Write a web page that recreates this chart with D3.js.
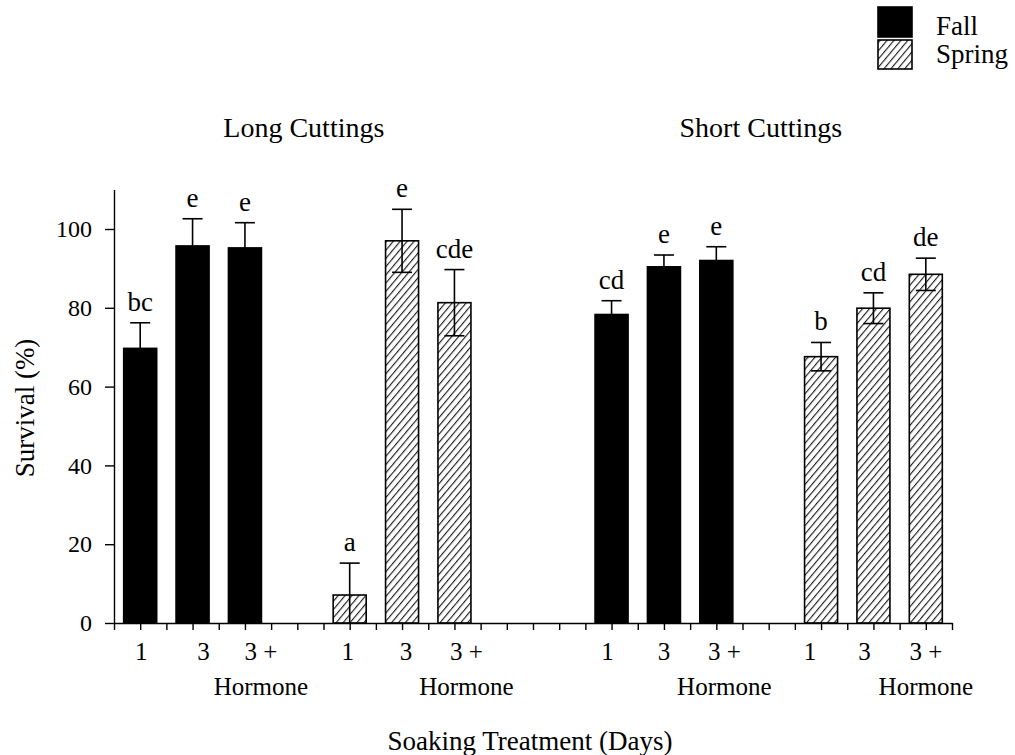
<!DOCTYPE html>
<html>
<head>
<meta charset="utf-8">
<script src="https://cdn.jsdelivr.net/npm/d3@7"></script>
<style>
  html, body { margin: 0; padding: 0; background: #fff; }
  svg { display: block; }
  text { font-family: "Liberation Serif", "Times New Roman", serif; fill: #000; }
</style>
</head>
<body>
<div id="chart"></div>
<script>
// ---------------- data ----------------
const cuttings   = ["Long Cuttings", "Short Cuttings"];
const seasons    = ["Fall", "Spring"];
const treatments = ["1", "3", "3 +"];
const treatmentNote = "Hormone";

const longFall      = [69.7, 95.7, 95.2];
const longFallErr   = [6.5, 6.9, 6.4];
const longFallLet   = ["bc", "e", "e"];

const longSpring    = [7.1, 97.0, 81.3];
const longSpringErr = [8.1, 8.0, 8.4];
const longSpringLet = ["a", "e", "cde"];

const shortFall     = [78.3, 90.4, 92.0];
const shortFallErr  = [3.5, 3.0, 3.5];
const shortFallLet  = ["cd", "e", "e"];

const shortSpring    = [67.6, 79.9, 88.5];
const shortSpringErr = [3.6, 3.9, 4.1];
const shortSpringLet = ["b", "cd", "de"];

const yTicks = [0, 20, 40, 60, 80, 100];
const yTitle = "Survival (%)";
const xTitle = "Soaking Treatment (Days)";

// ---------------- layout (not data) ----------------
const W = 1015, H = 755;
const plot = { left: 114, right: 952, top: 189.6, bottom: 623 };
// pixel nudges for hand-placed tick labels in the original figure
const labelNudge = [1, 11, 16, -2, 4, 12, -4, 0, 8, -11, -9, 0];

// build records
const series = [
  { c: 0, s: 0, v: longFall,    e: longFallErr,    l: longFallLet },
  { c: 0, s: 1, v: longSpring,  e: longSpringErr,  l: longSpringLet },
  { c: 1, s: 0, v: shortFall,   e: shortFallErr,   l: shortFallLet },
  { c: 1, s: 1, v: shortSpring, e: shortSpringErr, l: shortSpringLet }
];
const rows = [];
series.forEach((sr, si) => sr.v.forEach((v, t) => rows.push({
  cut: sr.c, season: sr.s, t, value: v, err: sr.e[t], letter: sr.l[t],
  slot: sr.c * 9 + sr.s * 4 + t, idx: si * 3 + t
})));

const svg = d3.select("#chart").append("svg").attr("width", W).attr("height", H);
svg.append("rect").attr("width", W).attr("height", H).attr("fill", "#fff");

const defs = svg.append("defs");
const pat = defs.append("pattern").attr("id", "hatch")
  .attr("patternUnits", "userSpaceOnUse").attr("width", 5.3).attr("height", 10)
  .attr("patternTransform", "rotate(40)");
pat.append("rect").attr("width", 5.3).attr("height", 10).attr("fill", "#fff");
pat.append("line").attr("x1", 0.6).attr("x2", 0.6).attr("y1", 0).attr("y2", 10)
  .attr("stroke", "#000").attr("stroke-width", 1);

const x = d3.scaleBand().domain(d3.range(16)).range([plot.left, plot.right]).padding(0);
const xMinor = d3.scaleLinear().domain([0, 32]).range([plot.left, plot.right]);
const y = d3.scaleLinear().domain([0, 110]).range([plot.bottom, plot.top]);
const bw = x.bandwidth() * 0.63;
const cx = d => x(d.slot) + x.bandwidth() / 2;

// bars
svg.append("g").selectAll("rect").data(rows).join("rect")
  .attr("x", d => cx(d) - bw / 2)
  .attr("y", d => y(d.value))
  .attr("width", bw)
  .attr("height", d => y(0) - y(d.value))
  .attr("fill", d => d.season === 0 ? "#000" : "url(#hatch)")
  .attr("stroke", "#000").attr("stroke-width", 1.6);

// error bars
const capW = 20;
const eg = svg.append("g").attr("stroke", "#000").attr("stroke-width", 1.6);
rows.forEach(d => {
  const hi = d.value + d.err, lo = Math.max(0, d.value - d.err);
  eg.append("line").attr("x1", cx(d)).attr("x2", cx(d)).attr("y1", y(hi)).attr("y2", y(lo));
  eg.append("line").attr("x1", cx(d) - capW / 2).attr("x2", cx(d) + capW / 2).attr("y1", y(hi)).attr("y2", y(hi));
  if (d.value - d.err > 0)
    eg.append("line").attr("x1", cx(d) - capW / 2).attr("x2", cx(d) + capW / 2).attr("y1", y(lo)).attr("y2", y(lo));
});

// significance letters
svg.append("g").selectAll("text").data(rows).join("text")
  .attr("x", cx).attr("y", d => y(d.value + d.err) - 12)
  .attr("text-anchor", "middle").attr("font-size", 27)
  .text(d => d.letter);

// y axis
const yAxis = svg.append("g").attr("transform", `translate(${plot.left},0)`)
  .call(d3.axisLeft(y).tickValues(yTicks).tickSize(9).tickSizeOuter(0).tickPadding(13));
yAxis.selectAll("text").attr("font-size", 24).style("font-family", "Liberation Serif, serif").attr("fill", "#000");
yAxis.selectAll("line, path").attr("stroke", "#000").attr("stroke-width", 1.4);

// x axis
const xAxis = svg.append("g").attr("transform", `translate(0,${plot.bottom})`)
  .call(d3.axisBottom(xMinor).tickValues(d3.range(0, 33)).tickSize(7).tickSizeOuter(0).tickFormat(""));
xAxis.selectAll("line, path").attr("stroke", "#000").attr("stroke-width", 1.4);

// x tick labels
svg.append("g").selectAll("text").data(rows).join("text")
  .attr("x", d => cx(d) + labelNudge[d.idx]).attr("y", 660)
  .attr("text-anchor", "middle").attr("font-size", 25)
  .text(d => treatments[d.t]);
svg.append("g").selectAll("text").data(rows.filter(d => d.t === 2)).join("text")
  .attr("x", d => cx(d) + labelNudge[d.idx]).attr("y", 695)
  .attr("text-anchor", "middle").attr("font-size", 25)
  .text(treatmentNote);

// group titles
const titlePos = [7.25, 24.7];
svg.append("g").selectAll("text").data(cuttings).join("text")
  .attr("x", (d, i) => xMinor(titlePos[i])).attr("y", 137)
  .attr("text-anchor", "middle").attr("font-size", 28)
  .text(d => d);

// axis titles
svg.append("text").attr("transform", "translate(34,408) rotate(-90)")
  .attr("text-anchor", "middle").attr("font-size", 27).text(yTitle);
svg.append("text").attr("x", 530).attr("y", 750)
  .attr("text-anchor", "middle").attr("font-size", 27).text(xTitle);

// legend
const lg = svg.append("g");
seasons.forEach((s, i) => {
  lg.append("rect").attr("x", 878).attr("y", i === 0 ? 7 : 40)
    .attr("width", 34).attr("height", i === 0 ? 30 : 29)
    .attr("fill", i === 0 ? "#000" : "url(#hatch)")
    .attr("stroke", "#000").attr("stroke-width", 1.6);
  lg.append("text").attr("x", 936).attr("y", i === 0 ? 35 : 63)
    .attr("font-size", 27).text(s);
});
</script>
</body>
</html>
